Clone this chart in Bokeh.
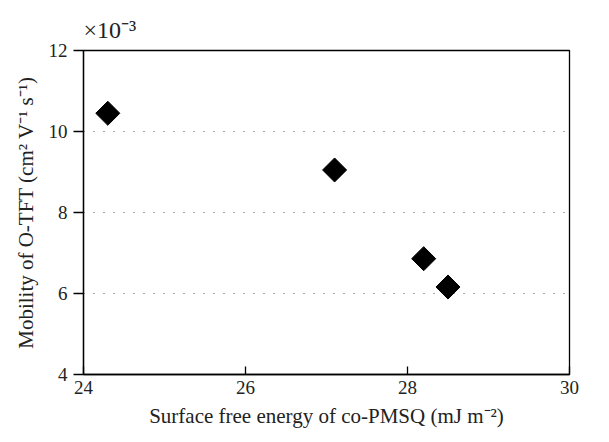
import math
from bokeh.plotting import figure
from bokeh.models import Range1d, FixedTicker, Title
from bokeh.embed import file_html
from bokeh.resources import INLINE

# Data (mobility in units of 1e-3 cm^2 V^-1 s^-1)
surface_energy = [24.3, 27.1, 28.2, 28.5]
mobility = [10.45, 9.05, 6.86, 6.16]
x_ticks = [24, 26, 28, 30]
y_ticks = [4, 6, 8, 10, 12]

FONT = "Liberation Serif"

p = figure(width=609, height=442, output_backend="svg", toolbar_location=None,
           x_range=Range1d(24, 30), y_range=Range1d(4, 12),
           min_border_left=83, min_border_right=40, min_border_top=50, min_border_bottom=68)

p.scatter(surface_energy, mobility, marker="square", size=17, angle=math.pi / 4,
          fill_color="black", line_color="black")

p.xaxis.ticker = FixedTicker(ticks=x_ticks)
p.yaxis.ticker = FixedTicker(ticks=y_ticks)
p.xaxis.minor_tick_line_color = None
p.yaxis.minor_tick_line_color = None

for ax in (p.xaxis, p.yaxis):
    ax.axis_line_color = "black"
    ax.axis_line_width = 1.3
    ax.major_tick_line_color = "black"
    ax.major_tick_line_width = 1.3
    ax.major_label_text_font = FONT
    ax.major_label_text_font_size = "19px"
    ax.major_label_text_color = "#222222"
    ax.axis_label_text_font = FONT
    ax.axis_label_text_font_size = "21px"
    ax.axis_label_text_font_style = "normal"
    ax.axis_label_text_color = "#222222"

p.xaxis.major_tick_in = 8
p.xaxis.major_tick_out = 0
p.xaxis.major_label_standoff = 6
p.yaxis.major_tick_in = 0
p.yaxis.major_tick_out = 10
p.yaxis.major_label_standoff = 6

p.xaxis.axis_label = "Surface free energy of co-PMSQ (mJ m⁻²)"
p.yaxis.axis_label = "Mobility of O-TFT (cm² V⁻¹ s⁻¹)"
p.xaxis.axis_label_standoff = 7
p.yaxis.axis_label_standoff = 8

p.xgrid.grid_line_color = None
p.ygrid.grid_line_color = "#555555"
p.ygrid.grid_line_dash = "1 9"
p.ygrid.grid_line_width = 1.2

p.outline_line_color = "black"
p.outline_line_width = 1.3
p.outline_line_alpha = 1

p.add_layout(Title(text="×10⁻³", align="left", offset=0, standoff=15,
                   text_font=FONT, text_font_size="24px", text_font_style="normal",
                   text_color="#222222"), "above")

open("out.html", "w").write(file_html(p, INLINE))
